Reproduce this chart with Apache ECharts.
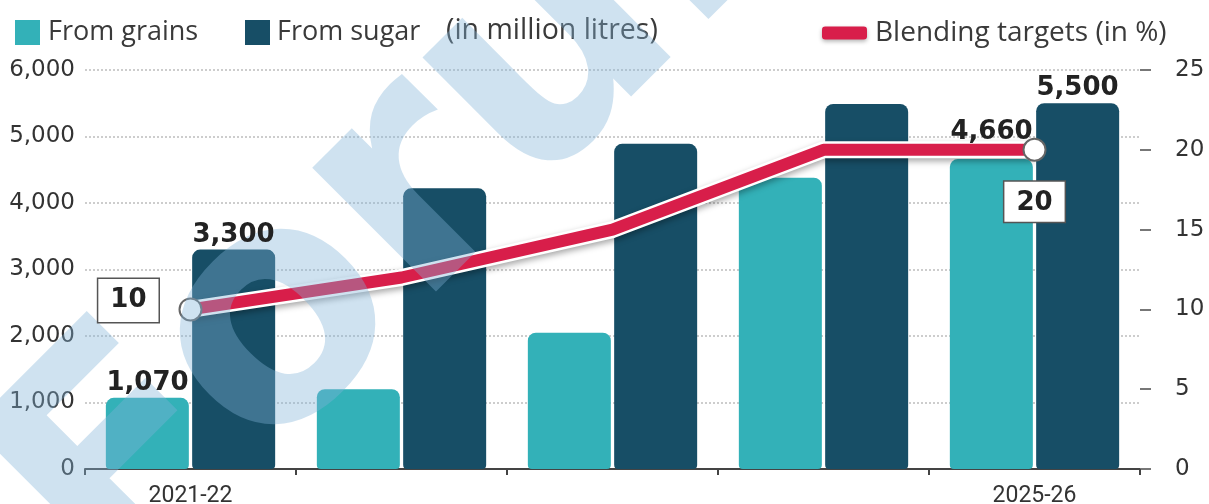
<!DOCTYPE html>
<html><head><meta charset="utf-8">
<script src="https://cdn.jsdelivr.net/npm/echarts@6/dist/echarts.min.js"></script>
<style>html,body{margin:0;padding:0;background:#fff}#c{width:1209px;height:504px}</style>
</head><body><div id="c"></div>
<script>
const categories = ['2021-22','2022-23','2023-24','2024-25','2025-26'];
const shownCategories = ['2021-22','2025-26'];
const grains = [1070, 1200, 2050, 4380, 4660];
const sugar = [3300, 4220, 4890, 5490, 5500];
const blending = [10, 12, 15, 20, 20];
const labelledIdx = [0, 4];

const TEAL = '#33b1b8', NAVY = '#174e66', RED = '#d81e4a';
const numFont = 'DejaVu Sans';
const txtFont = 'Open Sans';
const fmt = v => v.toLocaleString('en-US');

const boldLabel = {fontFamily: numFont, fontWeight: 'bold', fontSize: 26, color: '#222'};

function barLabelData(arr, dists) {
  return arr.map((v, i) => labelledIdx.includes(i)
    ? {value: v, label: {show: true, position: 'top', distance: dists[i], formatter: p => fmt(p.value)}}
    : '-');
}
function lineLabelData(arr) {
  return arr.map((v, i) => {
    if (i === 0) return {value: v, label: {show: true, position: 'left', distance: 32, offset: [0, -9],
      padding: [10, 12, 7, 12]}};
    if (i === arr.length - 1) return {value: v, label: {show: true, position: 'bottom', distance: 32,
      padding: [8, 12, 6, 12]}};
    return '-';
  });
}
function lineData(arr) {
  return arr.map((v, i) => labelledIdx.includes(i)
    ? {value: v, symbol: 'circle', symbolSize: 22} : {value: v, symbol: 'none'});
}

const legendText = {fontFamily: txtFont, fontSize: 27, color: '#3a3a3a'};
const chart = echarts.init(document.getElementById('c'), null, {renderer: 'canvas'});
chart.setOption({
  animation: false,
  grid: {left: 85, right: 69, top: 70, bottom: 35, containLabel: false, outerBoundsMode: 'none'},
  legend: [
    {data: ['From grains'], left: 10, top: 14, icon: 'rect', itemWidth: 25, itemHeight: 25,
     textStyle: Object.assign({}, legendText, {padding: [0, 0, 0, 3]})},
    {data: ['From sugar'], left: 240, top: 14, icon: 'rect', itemWidth: 25, itemHeight: 25,
     textStyle: Object.assign({}, legendText, {padding: [0, 0, 0, 2]})},
    {data: [{name: 'Blending targets (in %)', icon: 'roundRect',
             itemStyle: {color: RED, borderWidth: 0, shadowColor: 'rgba(0,0,0,0.3)', shadowBlur: 4, shadowOffsetY: 2}}],
     left: 817, top: 14, itemWidth: 45, itemHeight: 13,
     textStyle: Object.assign({}, legendText, {fontSize: 28, padding: [0, 0, 0, 3]})}
  ],
  xAxis: {
    type: 'category', data: categories,
    axisLine: {lineStyle: {color: '#444', width: 2}},
    axisTick: {show: true, length: 6, lineStyle: {color: '#444', width: 2}},
    axisLabel: {interval: 0, margin: 16, fontFamily: 'Roboto', fontSize: 23, color: '#333',
      formatter: v => shownCategories.includes(v) ? v : ''}
  },
  yAxis: [
    {type: 'value', min: 0, max: 6000, interval: 1000,
     axisLine: {show: false}, axisTick: {show: false},
     axisLabel: {margin: 10, fontFamily: numFont, fontSize: 23, color: '#333', formatter: v => fmt(v)},
     splitLine: {lineStyle: {color: '#bdbdbd', type: [2, 2], width: 1.5}}},
    {type: 'value', min: 0, max: 25, interval: 5, position: 'right',
     axisLine: {show: false}, axisTick: {show: true, length: 11, lineStyle: {color: '#777', width: 2}},
     axisLabel: {margin: 35, fontFamily: numFont, fontSize: 23, color: '#333'},
     splitLine: {show: false}}
  ],
  series: [
    {name: 'From grains', type: 'bar', data: grains, barWidth: 83, barGap: '4%', z: 2,
     itemStyle: {color: TEAL, borderRadius: [8, 8, 4, 4]}},
    {name: 'From sugar', type: 'bar', data: sugar, barWidth: 83, z: 2,
     itemStyle: {color: NAVY, borderRadius: [8, 8, 4, 4]}},
    {name: 'edge', type: 'line', yAxisIndex: 1, data: blending, symbol: 'none', silent: true, z: 3,
     lineStyle: {color: '#fff', width: 17, shadowColor: 'rgba(0,0,0,0.35)', shadowBlur: 6, shadowOffsetY: 3}},
    {name: 'Blending targets (in %)', type: 'line', yAxisIndex: 1, data: lineData(blending), z: 4,
     lineStyle: {color: RED, width: 12},
     itemStyle: {color: '#fff', borderColor: '#666', borderWidth: 2}},
    {name: 'grain labels', type: 'scatter', data: barLabelData(grains, {0: 2, 4: 14}), symbolSize: 0,
     zlevel: 1, z: 10, silent: true, itemStyle: {opacity: 1},
     label: Object.assign({offset: [-43, 0]}, boldLabel)},
    {name: 'sugar labels', type: 'scatter', data: barLabelData(sugar, {0: 1, 4: 2}), symbolSize: 0,
     zlevel: 1, z: 10, silent: true, itemStyle: {opacity: 1},
     label: Object.assign({offset: [43, 0]}, boldLabel)},
    {name: 'line labels', type: 'scatter', yAxisIndex: 1, data: lineLabelData(blending), symbolSize: 0,
     zlevel: 1, z: 10, silent: true, itemStyle: {opacity: 1},
     label: Object.assign({backgroundColor: '#fff', borderColor: '#555', borderWidth: 1.5}, boldLabel)}
  ],
  graphic: [
    {type: 'text', x: 446, y: 31, style: {text: '(in million litres)', verticalAlign: 'middle',
      font: '28.5px "Open Sans"', fill: '#3a3a3a'}},
    {type: 'text', x: 462, y: 148, rotation: Math.PI / 4, z: 6, silent: true,
     style: {text: 'Forum', fontFamily: 'DejaVu Sans', fontWeight: 'bold', fontSize: 320,
       fill: 'rgba(130,180,215,0.38)', align: 'center', verticalAlign: 'middle'}}
  ]
});
</script></body></html>
